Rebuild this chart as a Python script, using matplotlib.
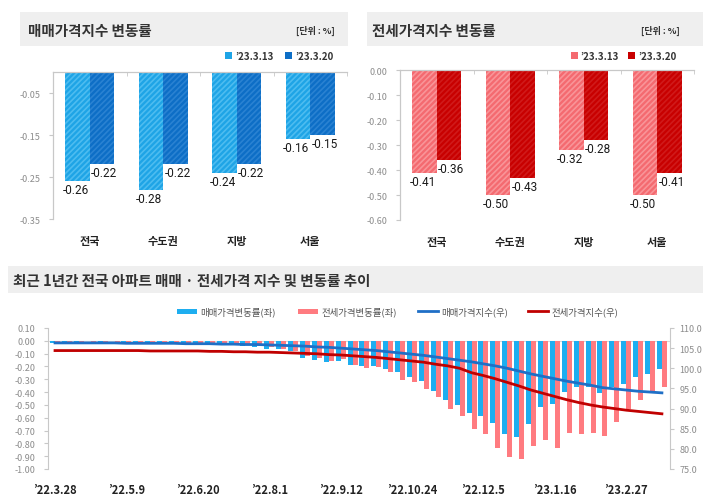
import matplotlib
matplotlib.use('Agg')
import matplotlib.pyplot as plt
from matplotlib.patches import Rectangle
from matplotlib.lines import Line2D
import numpy as np

plt.rcParams['font.family'] = ['Noto Sans CJK KR', 'DejaVu Sans']
plt.rcParams['axes.unicode_minus'] = False
plt.rcParams['hatch.linewidth'] = 1.2

# ---------------- data ----------------
regions = ['전국', '수도권', '지방', '서울']
legend_dates = ['’23.3.13', '’23.3.20']
sale_0313 = [-0.26, -0.28, -0.24, -0.16]
sale_0320 = [-0.22, -0.22, -0.22, -0.15]
jeonse_0313 = [-0.41, -0.50, -0.32, -0.50]
jeonse_0320 = [-0.36, -0.43, -0.28, -0.41]

week_tick_labels = ['’22.3.28', '’22.5.9', '’22.6.20', '’22.8.1', '’22.9.12',
                    '’22.10.24', '’22.12.5', '’23.1.16', '’23.2.27']
sale_change = [-0.02, -0.01, -0.01, 0.00, -0.01, 0.00, -0.01, -0.01, -0.01, -0.01,
               -0.02, -0.02, -0.03, -0.03, -0.03, -0.03, -0.04, -0.05, -0.06, -0.06,
               -0.08, -0.135, -0.146, -0.167, -0.16, -0.19, -0.20, -0.20, -0.22, -0.245,
               -0.28, -0.31, -0.39, -0.46, -0.50, -0.56, -0.59, -0.64, -0.73, -0.75,
               -0.65, -0.52, -0.49, -0.40, -0.36, -0.36, -0.41, -0.36, -0.34, -0.28,
               -0.26, -0.22]
jeonse_change = [-0.02, -0.02, -0.01, -0.01, -0.01, -0.01, -0.01, -0.01, -0.01, -0.01,
                 -0.01, -0.02, -0.02, -0.02, -0.03, -0.03, -0.03, -0.04, -0.05, -0.06,
                 -0.08, -0.115, -0.135, -0.16, -0.14, -0.19, -0.21, -0.205, -0.245, -0.305,
                 -0.32, -0.375, -0.44, -0.53, -0.59, -0.69, -0.73, -0.84, -0.91, -0.92,
                 -0.82, -0.77, -0.84, -0.72, -0.73, -0.72, -0.74, -0.63, -0.53, -0.46,
                 -0.41, -0.36]
sale_index = [106.3, 106.3, 106.3, 106.3, 106.3, 106.3, 106.2, 106.2, 106.2, 106.2,
              106.2, 106.1, 106.1, 106.1, 106.0, 106.0, 105.9, 105.9, 105.8, 105.7,
              105.6, 105.5, 105.3, 105.2, 105.0, 104.8, 104.6, 104.4, 104.1, 103.8,
              103.5, 103.2, 102.8, 102.4, 102.0, 101.6, 101.1, 100.6, 100.0, 99.3,
              98.6, 98.0, 97.4, 96.8, 96.3, 95.8, 95.2, 94.9, 94.6, 94.3,
              94.1, 93.9]
jeonse_index = [104.4, 104.4, 104.4, 104.4, 104.4, 104.4, 104.4, 104.4, 104.3, 104.3,
                104.3, 104.3, 104.3, 104.2, 104.2, 104.1, 104.1, 104.0, 104.0, 103.9,
                103.8, 103.7, 103.6, 103.4, 103.3, 103.1, 102.9, 102.7, 102.4, 102.1,
                101.8, 101.5, 101.0, 100.6, 100.0, 98.9, 98.2, 97.4, 96.5, 95.6,
                94.6, 93.8, 93.0, 92.2, 91.5, 90.9, 90.4, 90.0, 89.6, 89.3,
                89.0, 88.7]

# ---------------- layout helpers ----------------
W, H = 710, 502
fig = plt.figure(figsize=(7.1, 5.02), dpi=100)
fig.patch.set_facecolor('white')


def fx(x):
    return x / W


def fy(y):
    return 1 - y / H


def ax_px(x0, y0, x1, y1):
    return fig.add_axes([fx(x0), fy(y1), (x1 - x0) / W, (y1 - y0) / H])


def band(x0, y0, x1, y1):
    fig.add_artist(Rectangle((fx(x0), fy(y1)), (x1 - x0) / W, (y1 - y0) / H,
                             transform=fig.transFigure, facecolor='#efefef',
                             edgecolor='none', zorder=0))


GRID = '#c8c8c8'
TICKC = '#8c8c8c'
NUMFONT = ['Roboto', 'DejaVu Sans']


def bar_panel(ax, v1, v2, c1, c1h, c2, c2h, ymin, yticks, ylabels):
    x = np.arange(len(regions))
    w = 0.33
    ax.bar(x - w / 2, v1, w, color=c1, edgecolor=c1h, linewidth=0, hatch='//////', zorder=2)
    ax.bar(x + w / 2, v2, w, color=c2, edgecolor=c2h, linewidth=0, hatch='//////', zorder=2)
    for xi, v in zip(x - w / 2, v1):
        ax.annotate(f'{v:.2f}', (xi, v), xytext=(-1.5, -1.5), textcoords='offset points',
                    ha='center', va='top', fontsize=8.5, family=NUMFONT, color='#1a1a1a')
    for xi, v in zip(x + w / 2, v2):
        ax.annotate(f'{v:.2f}', (xi, v), xytext=(1.5, -1.5), textcoords='offset points',
                    ha='center', va='top', fontsize=8.5, family=NUMFONT, color='#1a1a1a')
    ax.set_xlim(-0.5, 3.5)
    ax.set_ylim(ymin, 0)
    ax.set_yticks(yticks)
    ax.set_yticklabels(ylabels)
    ax.set_xticks(x)
    ax.set_xticklabels(regions, fontsize=8, fontweight='bold', color='#222222')
    ax.set_xticks([0.5, 1.5, 2.5, 3.5], minor=True)
    ax.tick_params(axis='x', which='major', length=0, pad=11)
    ax.tick_params(axis='x', which='minor', top=True, bottom=False, direction='in',
                   length=3, color=GRID)
    ax.tick_params(axis='y', length=3, color=GRID, labelcolor=TICKC, labelsize=6.5, pad=6)
    for s in ['bottom', 'right']:
        ax.spines[s].set_visible(False)
    for s in ['top', 'left']:
        ax.spines[s].set_color(GRID)
        ax.spines[s].set_linewidth(0.9)


# ---------------- top-left panel ----------------
band(20, 13, 348, 47)
fig.text(fx(28), fy(31), '매매가격지수 변동률', fontsize=10.5, fontweight='bold',
         color='#333333', va='center', ha='left')
fig.text(fx(335), fy(31), '[단위 : %]', fontsize=6.5, fontweight='bold',
         color='#333333', va='center', ha='right')
LB1, LB1H, DB1, DB1H = '#1ea4e6', '#4dbcf0', '#0d6ec6', '#2a82d2'
fig.add_artist(Rectangle((fx(225), fy(60)), 7 / W, 7 / H, transform=fig.transFigure,
                         facecolor=LB1, edgecolor='none'))
fig.text(fx(235), fy(56.5), legend_dates[0], fontsize=7, fontweight='bold', color='#333333',
         va='center', ha='left')
fig.add_artist(Rectangle((fx(285), fy(60)), 7 / W, 7 / H, transform=fig.transFigure,
                         facecolor=DB1, edgecolor='none'))
fig.text(fx(295), fy(56.5), legend_dates[1], fontsize=7, fontweight='bold', color='#333333',
         va='center', ha='left')

ax1 = ax_px(53, 73, 347, 220)
bar_panel(ax1, sale_0313, sale_0320, LB1, LB1H, DB1, DB1H, -0.35,
          [-0.05, -0.15, -0.25, -0.35], ['-0.05', '-0.15', '-0.25', '-0.35'])

# ---------------- top-right panel ----------------
band(367, 13, 703, 47)
fig.text(fx(372), fy(31), '전세가격지수 변동률', fontsize=10.5, fontweight='bold',
         color='#333333', va='center', ha='left')
fig.text(fx(680), fy(31), '[단위 : %]', fontsize=6.5, fontweight='bold',
         color='#333333', va='center', ha='right')
LR1, LR1H, DR1, DR1H = '#f46a70', '#f99498', '#c80000', '#d01a1a'
fig.add_artist(Rectangle((fx(571), fy(60)), 7 / W, 7 / H, transform=fig.transFigure,
                         facecolor=LR1, edgecolor='none'))
fig.text(fx(580), fy(56.5), legend_dates[0], fontsize=7, fontweight='bold', color='#333333',
         va='center', ha='left')
fig.add_artist(Rectangle((fx(628), fy(60)), 7 / W, 7 / H, transform=fig.transFigure,
                         facecolor=DR1, edgecolor='none'))
fig.text(fx(638), fy(56.5), legend_dates[1], fontsize=7, fontweight='bold', color='#333333',
         va='center', ha='left')

ax2 = ax_px(400, 71, 694, 221)
yt2 = [0.0, -0.1, -0.2, -0.3, -0.4, -0.5, -0.6]
bar_panel(ax2, jeonse_0313, jeonse_0320, LR1, LR1H, DR1, DR1H, -0.6,
          yt2, [f'{v:.2f}' if v != 0 else '0.00' for v in yt2])

# ---------------- bottom panel ----------------
band(8, 267, 703, 294)
fig.text(fx(13), fy(281), '최근 1년간 전국 아파트 매매 · 전세가격 지수 및 변동률 추이',
         fontsize=10.5, fontweight='bold', color='#333333', va='center', ha='left')

BL, RD, BLL, RDL = '#1eaef0', '#ff7b80', '#1f6fc6', '#c00000'
# legend
fig.add_artist(Rectangle((fx(177), fy(314.5)), 20 / W, 5 / H, transform=fig.transFigure,
                         facecolor=BL, edgecolor='none'))
fig.text(fx(200), fy(312), '매매가격변동률(좌)', fontsize=6.8, color='#555555', va='center')
fig.add_artist(Rectangle((fx(298), fy(314.5)), 20 / W, 5 / H, transform=fig.transFigure,
                         facecolor=RD, edgecolor='none'))
fig.text(fx(321), fy(312), '전세가격변동률(좌)', fontsize=6.8, color='#555555', va='center')
fig.add_artist(Line2D([fx(418), fx(438)], [fy(312), fy(312)], transform=fig.transFigure,
                      color=BLL, lw=2))
fig.text(fx(441), fy(312), '매매가격지수(우)', fontsize=6.8, color='#555555', va='center')
fig.add_artist(Line2D([fx(528), fx(548)], [fy(312), fy(312)], transform=fig.transFigure,
                      color=RDL, lw=2))
fig.text(fx(551), fy(312), '전세가격지수(우)', fontsize=6.8, color='#555555', va='center')

ax3 = ax_px(48, 329, 670, 470)
n = len(sale_change)
xi = np.arange(n)
bw = 0.42
ax3.bar(xi - bw / 2, sale_change, bw, color=BL, linewidth=0, zorder=2)
ax3.bar(xi + bw / 2, jeonse_change, bw, color=RD, linewidth=0, zorder=2)
ax3.axhline(0, color='#d8d8d8', lw=0.8, zorder=1)
ax3.set_xlim(-0.59, 51.68)
ax3.set_ylim(-1.0, 0.1)
yt3 = np.round(np.arange(0.1, -1.01, -0.1), 2)
ax3.set_yticks(yt3)
ax3.set_yticklabels([f'{v:.2f}' if abs(v) > 1e-9 else '0.00' for v in yt3])
ax3.set_xticks(np.arange(0, n, 6)[:len(week_tick_labels)])
ax3.set_xticklabels(week_tick_labels, fontsize=8, fontweight='bold', color='#222222')
ax3.tick_params(axis='x', length=0, pad=10)
ax3.tick_params(axis='y', length=3, color=GRID, labelcolor=TICKC, labelsize=6.5, pad=6)
for s in ['top', 'bottom', 'right']:
    ax3.spines[s].set_visible(False)
ax3.spines['left'].set_color(GRID)

ax4 = ax3.twinx()
ax4.plot(xi, sale_index, color=BLL, lw=2, zorder=3)
ax4.plot(xi, jeonse_index, color=RDL, lw=2, zorder=3)
ax4.set_ylim(75, 110)
ax4.set_yticks(np.arange(75, 110.1, 5))
ax4.set_yticklabels([f'{v:.1f}' for v in np.arange(75, 110.1, 5)])
ax4.tick_params(axis='y', length=3, color=GRID, labelcolor=TICKC, labelsize=6.5, pad=4)
for s in ['top', 'bottom', 'left']:
    ax4.spines[s].set_visible(False)
ax4.spines['right'].set_color(GRID)

fig.savefig('out.png', dpi=100, facecolor='white')
